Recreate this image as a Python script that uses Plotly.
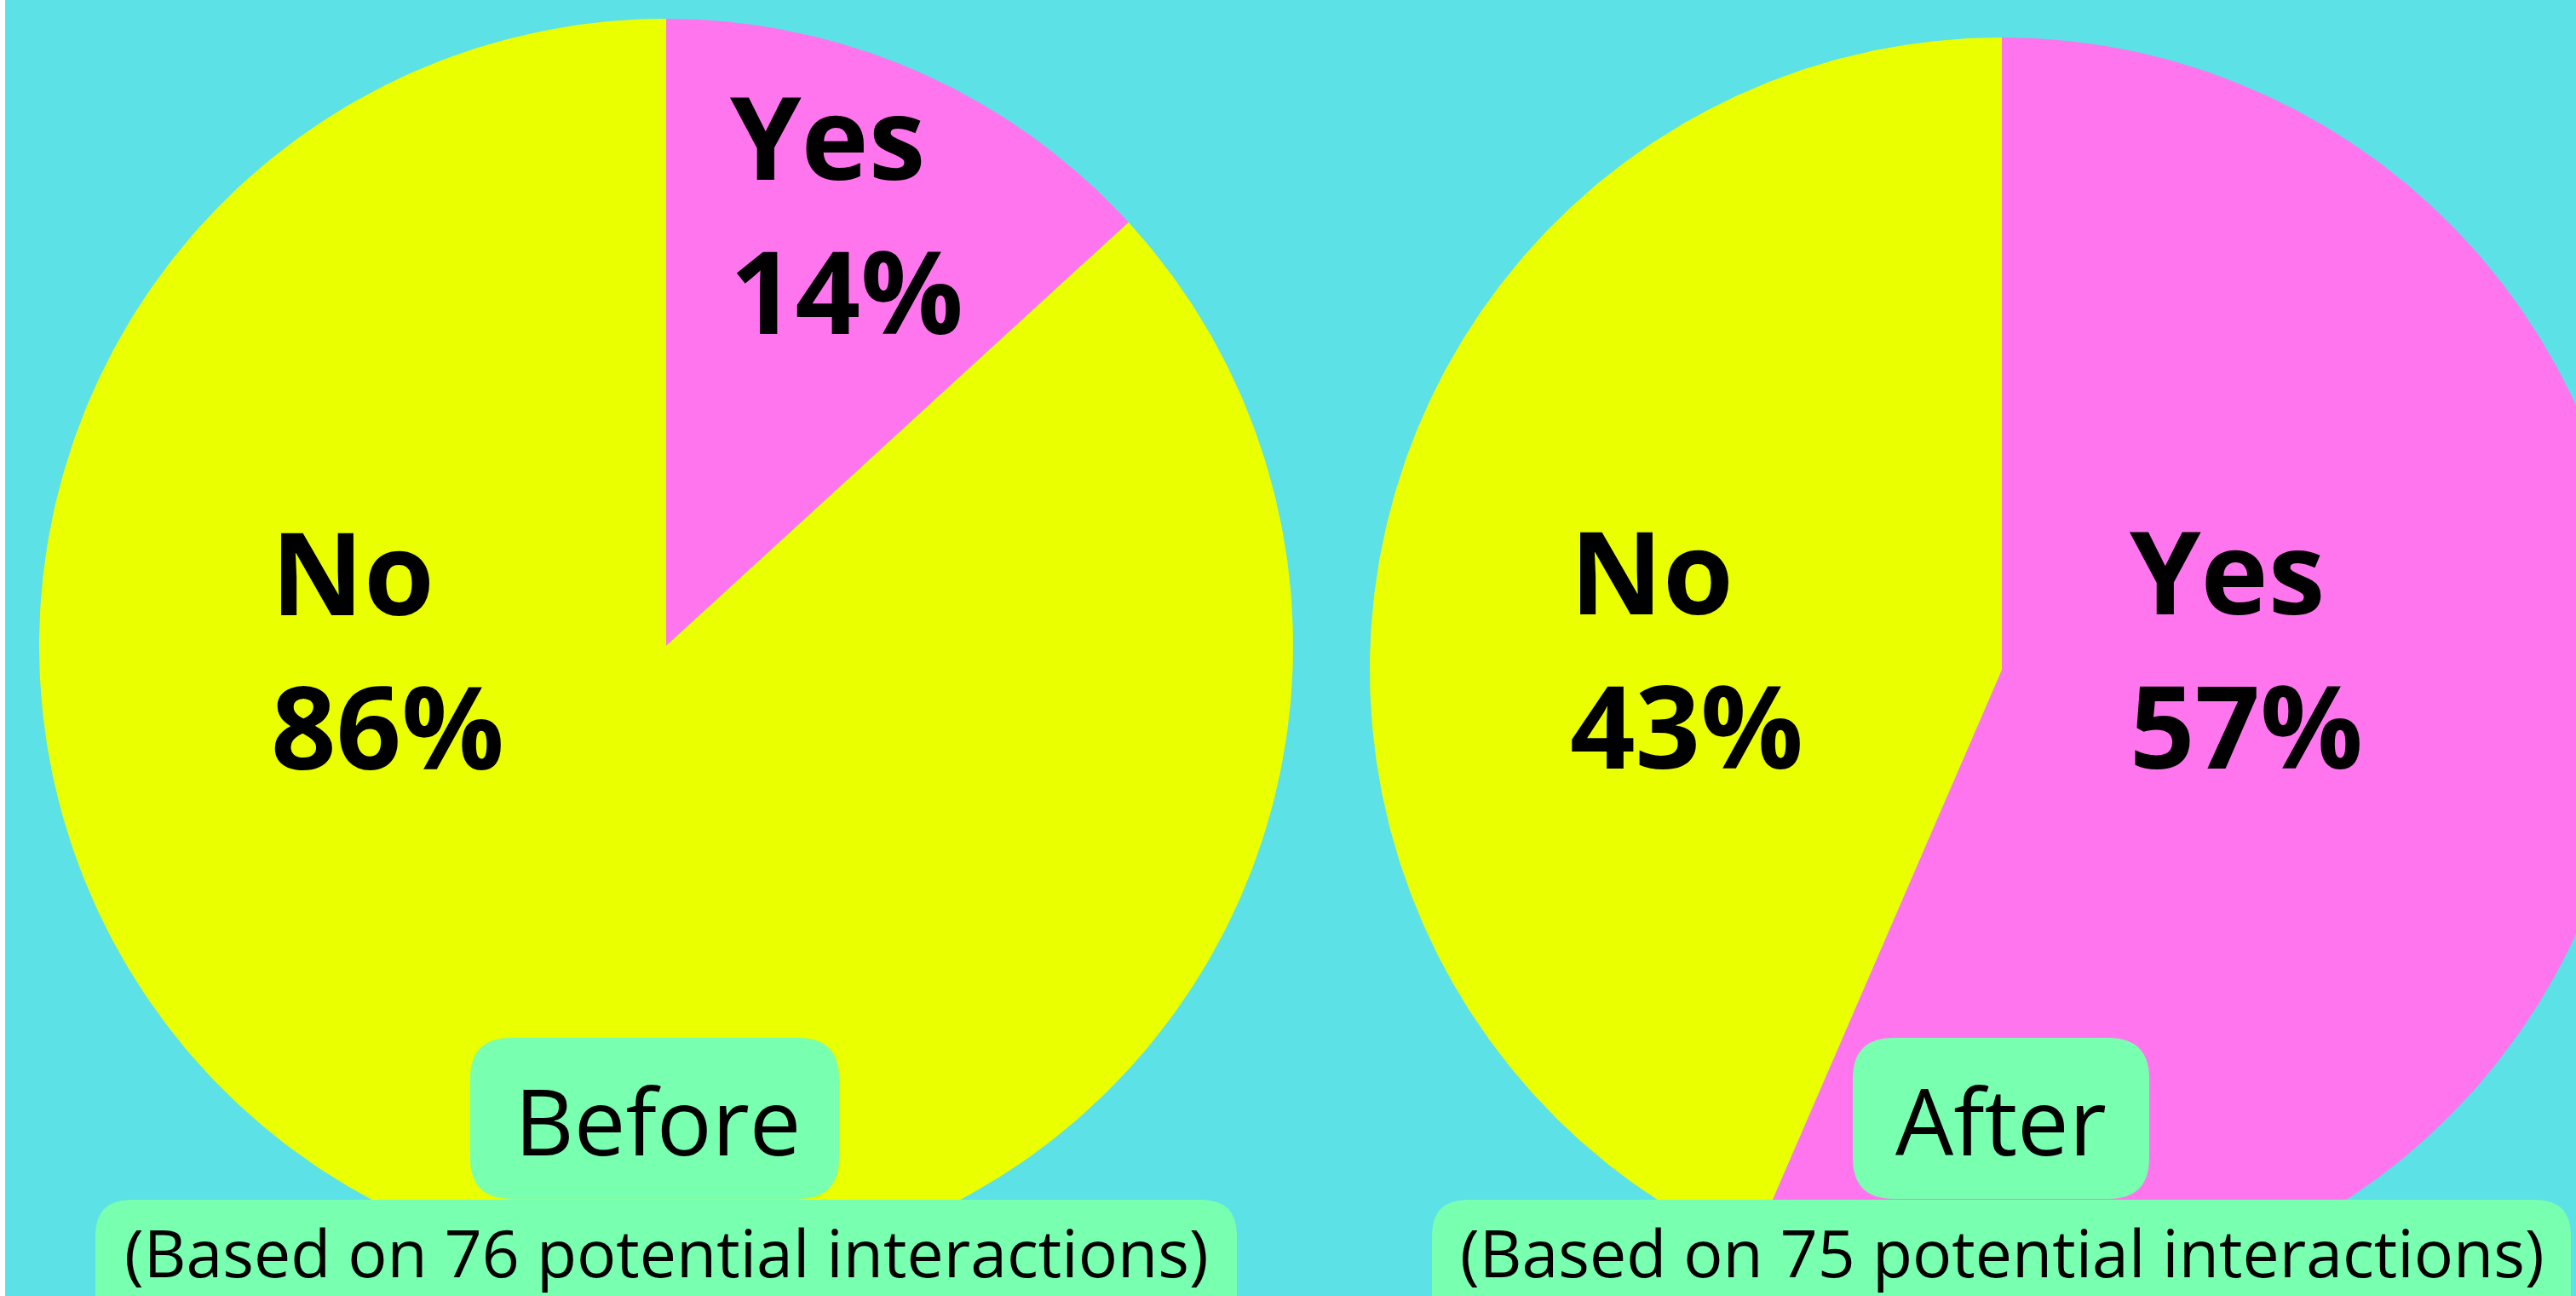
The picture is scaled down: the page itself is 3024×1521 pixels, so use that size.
import numpy as np
import plotly.graph_objects as go

# ---------------- data ----------------
categories = ["Yes", "No"]
before_share = [13.2, 86.8]      # slice sizes as drawn
after_share = [56.5, 43.5]
before_pct_labels = ["14%", "86%"]
after_pct_labels = ["57%", "43%"]
panel_titles = ["Before", "After"]
panel_notes = ["(Based on 76 potential interactions)",
               "(Based on 75 potential interactions)"]

# ---------------- styling / layout ----------------
W, H = 3024, 1521
BG = "#5CE1E6"
COLORS = {"Yes": "#FF75EE", "No": "#EAFF00"}
BOX = "#78FFAF"
FONT = "Open Sans"

panels = [
    dict(cx=782, cy=758, r=736, shares=before_share, pcts=before_pct_labels,
         label_pos={"Yes": (855, 207), "No": (316, 718)},
         title_box=(552, 1218, 985, 1407), title_x=772,
         note_box=(112, 1408, 1452, 1600), note_x=782),
    dict(cx=2350, cy=786, r=742, shares=after_share, pcts=after_pct_labels,
         label_pos={"Yes": (2498, 717), "No": (1841, 717)},
         title_box=(2175, 1218, 2523, 1407), title_x=2349,
         note_box=(1681, 1408, 3018, 1600), note_x=2350),
]

LABEL_SIZE = 134
LINE_GAP = 181
TITLE_SIZE = 108
NOTE_SIZE = 77


def rrect(x0, y0, x1, y1, rad):
    return (f"M {x0+rad},{y0} L {x1-rad},{y0} Q {x1},{y0} {x1},{y0+rad} "
            f"L {x1},{y1-rad} Q {x1},{y1} {x1-rad},{y1} L {x0+rad},{y1} "
            f"Q {x0},{y1} {x0},{y1-rad} L {x0},{y0+rad} Q {x0},{y0} {x0+rad},{y0} Z")


fig = go.Figure()
shapes = []
annotations = []

for p in panels:
    total = sum(p["shares"])
    start = 0.0
    for cat, share in zip(categories, p["shares"]):
        a0 = start / total * 2 * np.pi
        a1 = (start + share) / total * 2 * np.pi
        start += share
        th = np.linspace(a0, a1, 400)
        xs = np.concatenate([[p["cx"]], p["cx"] + p["r"] * np.sin(th), [p["cx"]]])
        ys = np.concatenate([[p["cy"]], p["cy"] - p["r"] * np.cos(th), [p["cy"]]])
        fig.add_trace(go.Scatter(x=xs, y=ys, mode="lines", fill="toself",
                                 fillcolor=COLORS[cat], line=dict(width=0, color=COLORS[cat]),
                                 hoverinfo="skip", showlegend=False))
    for cat, pct in zip(categories, p["pcts"]):
        lx, base = p["label_pos"][cat]
        for i, txt in enumerate([cat, pct]):
            b = base + i * LINE_GAP
            annotations.append(dict(x=lx, y=b - 0.36 * LABEL_SIZE, xref="x", yref="y",
                                    text=txt, showarrow=False, xanchor="left", yanchor="middle",
                                    font=dict(family=FONT, size=LABEL_SIZE, color="black", weight=700)))

for p, title, note in zip(panels, panel_titles, panel_notes):
    shapes.append(dict(type="path", path=rrect(*p["title_box"], 48), xref="x", yref="y",
                       fillcolor=BOX, line=dict(width=0), layer="above"))
    shapes.append(dict(type="path", path=rrect(*p["note_box"], 42), xref="x", yref="y",
                       fillcolor=BOX, line=dict(width=0), layer="above"))
    tb = p["title_box"]
    annotations.append(dict(x=p["title_x"], y=(tb[1] + tb[3]) / 2 + 2, xref="x", yref="y",
                            text=title, showarrow=False, xanchor="center", yanchor="middle",
                            font=dict(family=FONT, size=TITLE_SIZE, color="black")))
    annotations.append(dict(x=p["note_x"], y=1497 - 0.36 * NOTE_SIZE, xref="x", yref="y",
                            text=note, showarrow=False, xanchor="center", yanchor="middle",
                            font=dict(family=FONT, size=NOTE_SIZE, color="black")))

fig.update_layout(
    width=W, height=H,
    margin=dict(l=6, r=0, t=0, b=0),
    paper_bgcolor="white", plot_bgcolor=BG,
    xaxis=dict(range=[6, W], visible=False, fixedrange=True),
    yaxis=dict(range=[H, 0], visible=False, fixedrange=True),
    shapes=shapes, annotations=annotations,
    showlegend=False,
)

fig.write_html("out.html", config={"displayModeBar": False},
               post_script="document.body.style.margin='0';document.body.style.overflow='hidden';")
